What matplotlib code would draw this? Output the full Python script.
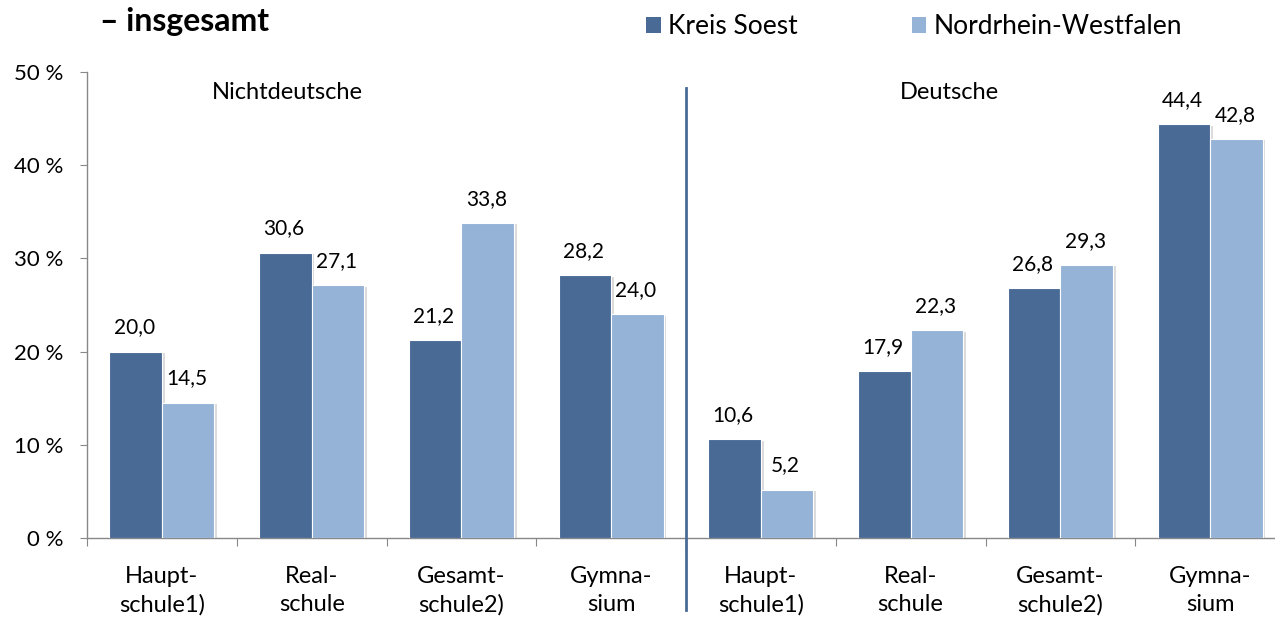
import matplotlib
matplotlib.use("Agg")
import matplotlib.pyplot as plt
import matplotlib.patheffects as pe
from matplotlib.patches import Patch
import numpy as np

plt.rcParams['font.family'] = ['Lato', 'DejaVu Sans']

categories = ["Haupt-\nschule1)", "Real-\nschule", "Gesamt-\nschule2)", "Gymna-\nsium",
              "Haupt-\nschule1)", "Real-\nschule", "Gesamt-\nschule2)", "Gymna-\nsium"]
kreis_soest = [20.0, 30.6, 21.2, 28.2, 10.6, 17.9, 26.8, 44.4]
nrw = [14.5, 27.1, 33.8, 24.0, 5.2, 22.3, 29.3, 42.8]
series_names = ["Kreis Soest", "Nordrhein-Westfalen"]
group_labels = ["Nichtdeutsche", "Deutsche"]
yticks = [0, 10, 20, 30, 40, 50]
title = "– insgesamt"

c_dark = "#4A6A96"
c_light = "#95B3D7"

W, H = 1275, 617
fig = plt.figure(figsize=(W/100, H/100), dpi=100)
ax = fig.add_axes([87/W, 1-538/H, 1198/W, 466/H])

x = np.arange(len(categories))
bw = 0.35
shadow = [pe.SimplePatchShadow(offset=(2, -1), shadow_rgbFace='#999999', alpha=0.35), pe.Normal()]
b1 = ax.bar(x - bw/2, kreis_soest, bw, color=c_dark, edgecolor='white', linewidth=0.8,
            path_effects=shadow, zorder=3)
b2 = ax.bar(x + bw/2, nrw, bw, color=c_light, edgecolor='white', linewidth=0.8,
            path_effects=shadow, zorder=3)

for bars, vals in ((b1, kreis_soest), (b2, nrw)):
    for rect, v in zip(bars, vals):
        ax.annotate(f"{v:.1f}".replace(".", ","), (rect.get_x() + rect.get_width()/2, v),
                    xytext=(-1, 17.5), textcoords='offset points', ha='center', va='center',
                    fontsize=15, color='black')

ax.set_xlim(-0.5, len(categories) - 0.5)
ax.set_ylim(0, 50)
ax.set_yticks(yticks)
ax.set_yticklabels([f"{t} %" for t in yticks], fontsize=16)
ax.set_xticks(np.arange(len(categories) + 1) - 0.5)
ax.set_xticklabels([])
ax.set_xticks(x, minor=True)
ax.set_xticklabels(categories, minor=True, fontsize=17, linespacing=1.4)
ax.tick_params(axis='x', which='minor', length=0, pad=20.5)
ax.tick_params(axis='x', which='major', length=6, color='#888888', direction='out')
ax.tick_params(axis='y', length=5, color='#888888', direction='out', pad=12)
for s in ('top', 'right'):
    ax.spines[s].set_visible(False)
for s in ('left', 'bottom'):
    ax.spines[s].set_color('#888888')
    ax.spines[s].set_linewidth(1.0)

ax.axvline(3.5, ymin=-0.155, ymax=0.966, color=c_dark, linewidth=2, clip_on=False, zorder=4)

ax.text(0.836, 47.85, group_labels[0], ha='center', va='center', fontsize=17)
ax.text(5.26, 47.85, group_labels[1], ha='center', va='center', fontsize=17)

fig.text(100/W, 1-22/H, title, ha='left', va='center', fontsize=23, fontweight='bold')

handles = [Patch(facecolor=c_dark, edgecolor='none'), Patch(facecolor=c_light, edgecolor='none')]
fig.legend(handles=handles, labels=series_names, loc='center left',
           bbox_to_anchor=(646/W, 1-27/H), ncol=2, frameon=False, fontsize=19,
           handlelength=0.55, handleheight=0.55, handletextpad=0.3, columnspacing=4.3,
           borderpad=0, borderaxespad=0)

fig.savefig("out.png", dpi=100)
